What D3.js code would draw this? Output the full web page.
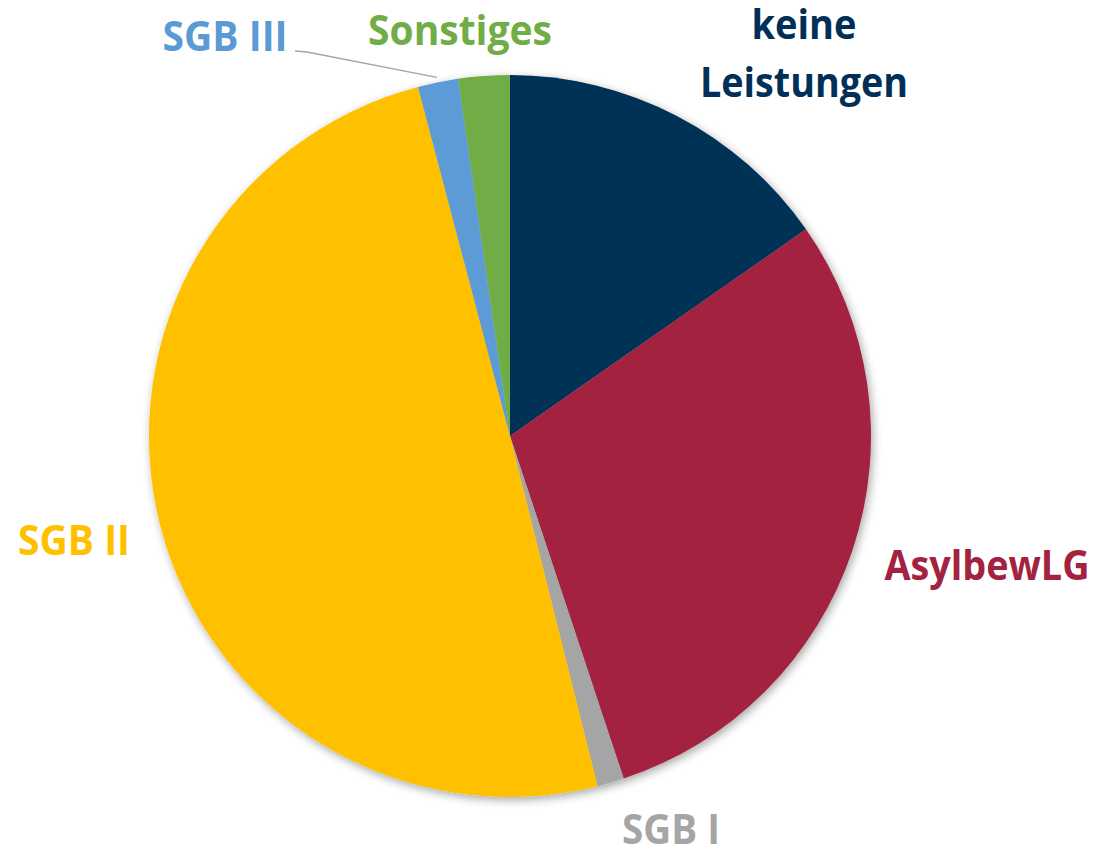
<!DOCTYPE html>
<html><head><meta charset="utf-8">
<script src="https://cdn.jsdelivr.net/npm/d3@7"></script>
<style>
html,body{margin:0;padding:0;background:#fff;}
svg text{font-family:"Open Sans",sans-serif;font-weight:700;}
</style></head>
<body>
<svg id="c" width="1104" height="852"></svg>
<script>
const categories = ["keine Leistungen","AsylbewLG","SGB I","SGB II","SGB III","Sonstiges"];
const values = [15.3, 29.6, 1.2, 49.8, 1.8, 2.3];
const colors = ["#003057","#A32240","#A5A5A5","#FFC000","#5B9BD5","#70AD47"];
// label layout: [lines, x, baseline y, line height]
const labelLines = [["keine","Leistungen"],["AsylbewLG"],["SGB I"],["SGB II"],["SGB III"],["Sonstiges"]];
const labelPos = [[804,39,58],[987,580,0],[671,844,0],[74,555,0],[225,51,0],[460,45,0]];
const labelWidths = [[105,208],[205],[98],[112],[125],[184]];

const svg = d3.select("#c");
const cx = 510, cy = 436, R = 361;
const defs = svg.append("defs");
const f = defs.append("filter").attr("id","sh").attr("x","-20%").attr("y","-20%").attr("width","140%").attr("height","140%");
f.append("feGaussianBlur").attr("in","SourceAlpha").attr("stdDeviation",5);
f.append("feOffset").attr("dx",2).attr("dy",3).attr("result","b");
f.append("feComponentTransfer").append("feFuncA").attr("type","linear").attr("slope",0.35);
const m = f.append("feMerge"); m.append("feMergeNode"); m.append("feMergeNode").attr("in","SourceGraphic");

const pie = d3.pie().sort(null).value(d=>d);
const arcs = pie(values);
const arc = d3.arc().innerRadius(0).outerRadius(R);
const g = svg.append("g").attr("transform",`translate(${cx},${cy})`).attr("filter","url(#sh)");
g.selectAll("path").data(arcs).join("path")
  .attr("d",arc).attr("fill",(d,i)=>colors[i]);

// leader line for SGB III
const a4 = (arcs[4].startAngle+arcs[4].endAngle)/2;
const ex = cx + Math.sin(a4)*(R+5), ey = cy - Math.cos(a4)*(R+5);
svg.append("polyline").attr("points",`295,51 307,52 ${ex},${ey}`)
  .attr("fill","none").attr("stroke","#A5A5A5").attr("stroke-width",1.5);

labelLines.forEach((lines,i)=>{
  const [x,y,lh] = labelPos[i];
  lines.forEach((t,j)=>{
    svg.append("text").attr("x",x).attr("y",y+j*lh)
      .attr("text-anchor","middle").attr("fill",colors[i])
      .attr("font-size",42)
      .attr("textLength",labelWidths[i][j]).attr("lengthAdjust","spacingAndGlyphs")
      .text(t);
  });
});
</script>
</body></html>
